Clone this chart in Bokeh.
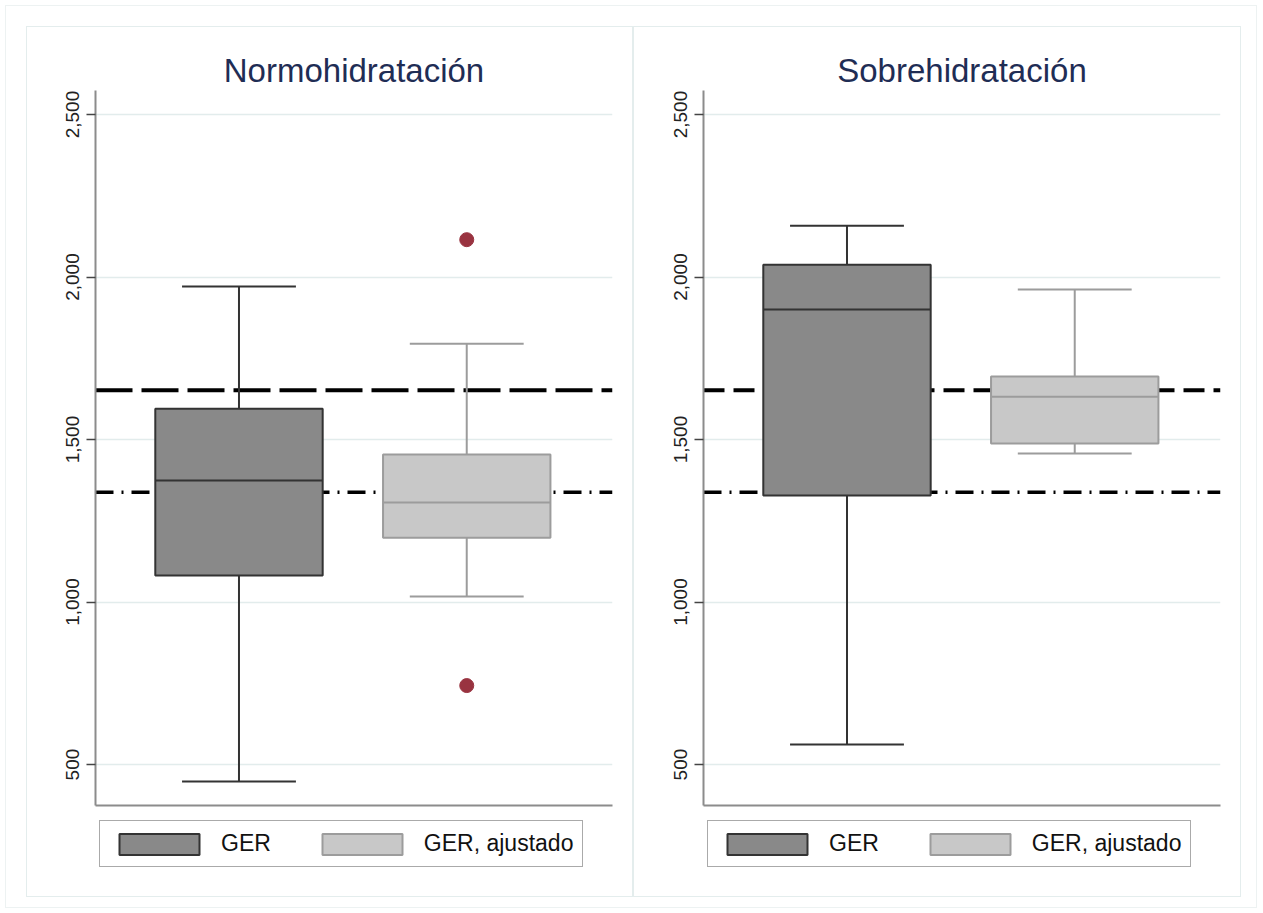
from bokeh.plotting import figure
from bokeh.models import Span, Legend, LegendItem, NumeralTickFormatter, FixedTicker, Range1d
from bokeh.layouts import row, column
from bokeh.embed import file_html
from bokeh.resources import INLINE

# ---- data ----
panels = ["Normohidratación", "Sobrehidratación"]
series = ["GER", "GER, ajustado"]
ger_low = [448, 562]
ger_q1 = [1082, 1328]
ger_med = [1374, 1900]
ger_q3 = [1595, 2038]
ger_high = [1971, 2158]
adj_low = [1017, 1457]
adj_q1 = [1198, 1488]
adj_med = [1306, 1632]
adj_q3 = [1454, 1694]
adj_high = [1795, 1962]
adj_outliers = [[2115, 743], []]
ref_dashed = 1652
ref_dashdot = 1338
y_ticks = [500, 1000, 1500, 2000, 2500]

FONT = "Liberation Sans"
DARK_FILL, DARK_LINE = "#898989", "#333333"
LIGHT_FILL, LIGHT_LINE = "#c8c8c8", "#9c9c9c"
OUT_COLOR = "#993340"
BW = 0.735


def make_panel(i, left_border, right_border, dash, legend_x):
    p = figure(frame_width=517, frame_height=715, x_range=Range1d(0.37, 2.64),
               y_range=Range1d(374, 2574), output_backend="svg",
               toolbar_location=None, min_border_left=left_border,
               min_border_right=right_border, min_border_top=63,
               min_border_bottom=5, background_fill_color="white",
               border_fill_color="white", outline_line_color=None)
    p.title.text = panels[i]
    p.title.align = "center"
    p.title.text_font = FONT
    p.title.text_font_size = "33px"
    p.title.text_font_style = "normal"
    p.title.text_color = "#1f2d55"
    p.title.standoff = 4

    yax = p.yaxis[0]
    yax.ticker = FixedTicker(ticks=y_ticks)
    yax.formatter = NumeralTickFormatter(format="0,0")
    yax.major_label_orientation = "vertical"
    yax.major_label_text_font = FONT
    yax.major_label_text_font_size = "19px"
    yax.major_label_text_color = "#222222"
    yax.major_label_standoff = 7
    yax.major_tick_out = 9
    yax.major_tick_in = 0
    yax.major_tick_line_color = "#444444"
    yax.major_tick_line_width = 1.5
    yax.minor_tick_line_color = None
    yax.axis_line_color = "#8c8c8c"
    yax.axis_line_width = 2

    xax = p.xaxis[0]
    xax.ticker = FixedTicker(ticks=[])
    xax.major_label_text_font_size = "0px"
    xax.major_tick_out = 0
    xax.major_tick_in = 0
    xax.minor_tick_line_color = None
    xax.axis_line_color = "#8c8c8c"
    xax.axis_line_width = 2

    p.xgrid.grid_line_color = None
    p.ygrid.grid_line_color = "#e2ecec"
    p.ygrid.grid_line_width = 1.5

    p.add_layout(Span(location=ref_dashed, dimension="width", line_color="black",
                      line_width=4, line_dash=dash, level="underlay"))
    p.add_layout(Span(location=ref_dashdot, dimension="width", line_color="black",
                      line_width=3.5, line_dash="18 8 2 8", level="underlay"))

    cw = 0.5
    specs = [(1, ger_low[i], ger_q1[i], ger_med[i], ger_q3[i], ger_high[i], DARK_FILL, DARK_LINE),
             (2, adj_low[i], adj_q1[i], adj_med[i], adj_q3[i], adj_high[i], LIGHT_FILL, LIGHT_LINE)]
    for x, lo, q1, md, q3, hi, fc, lc in specs:
        p.segment(x0=[x, x], y0=[q3, q1], x1=[x, x], y1=[hi, lo], line_color=lc, line_width=2)
        p.segment(x0=[x - cw / 2] * 2, y0=[hi, lo], x1=[x + cw / 2] * 2, y1=[hi, lo],
                  line_color=lc, line_width=2)
        p.vbar(x=[x], width=BW, bottom=[q1], top=[q3], fill_color=fc,
               line_color=lc, line_width=2)
        p.segment(x0=[x - BW / 2], y0=[md], x1=[x + BW / 2], y1=[md], line_color=lc, line_width=2)
    if adj_outliers[i]:
        p.scatter(x=[2] * len(adj_outliers[i]), y=adj_outliers[i], size=14,
                  fill_color=OUT_COLOR, line_color=OUT_COLOR)

    # legend strip below the plot: its own small figure whose frame lines up with
    # the plot frame; its swatch renderers are hidden (the legend still draws them)
    lg = figure(frame_width=517, height=86, x_range=Range1d(-20, -19),
                y_range=Range1d(-20, -19), output_backend="svg", toolbar_location=None,
                min_border_left=left_border, min_border_right=right_border,
                min_border_top=0, min_border_bottom=0,
                x_axis_type=None, y_axis_type=None,
                background_fill_color="white", border_fill_color="white",
                outline_line_color=None)
    lg.grid.visible = False
    r1 = lg.vbar(x=[1], width=BW, bottom=[ger_q1[i]], top=[ger_q3[i]],
                 fill_color=DARK_FILL, line_color=DARK_LINE, line_width=2)
    r2 = lg.vbar(x=[2], width=BW, bottom=[adj_q1[i]], top=[adj_q3[i]],
                 fill_color=LIGHT_FILL, line_color=LIGHT_LINE, line_width=2)
    r1.visible = False
    r2.visible = False
    legend = Legend(items=[LegendItem(label=series[0], renderers=[r1]),
                           LegendItem(label=series[1], renderers=[r2])],
                    orientation="horizontal", location=(legend_x, 29),
                    glyph_width=100, glyph_height=26, label_standoff=12, spacing=41,
                    padding=9, margin=0, border_line_color="#555555",
                    border_line_width=1.5, label_text_font=FONT,
                    label_text_font_size="23px", label_text_color="#111111",
                    background_fill_color="white", click_policy="none")
    lg.add_layout(legend, "center")
    return column(p, lg, spacing=0, styles={"border": "1px solid #e4eded"})


c1 = make_panel(0, 68, 20, "37 9", 4)
c2 = make_panel(1, 69, 20, "21 9", 4)
layout = row(c1, c2, spacing=0,
             styles={"border": "1px solid #edf2f2", "padding": "20px 15px 10px 20px",
                     "margin": "5px"})

open("out.html", "w").write(file_html(layout, INLINE))
